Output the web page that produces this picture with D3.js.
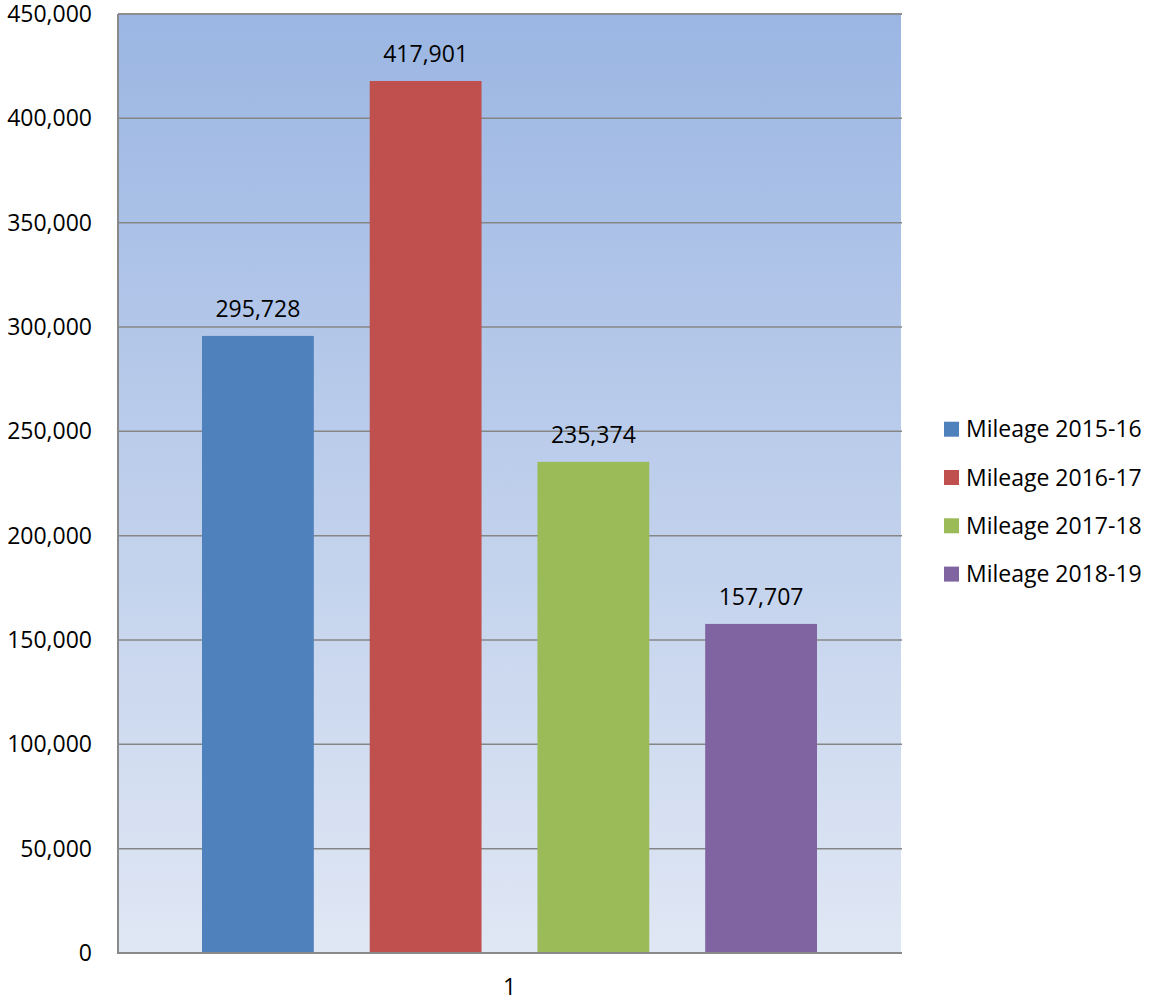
<!DOCTYPE html>
<html><head><meta charset="utf-8">
<script src="https://cdn.jsdelivr.net/npm/d3@7"></script>
<style>body{margin:0;background:#fff;} text{font-family:"Open Sans",sans-serif;fill:#000;}</style>
</head><body>
<svg id="c" width="1150" height="1001"></svg>
<script>
const categories = ["1"];
const seriesNames = ["Mileage 2015-16","Mileage 2016-17","Mileage 2017-18","Mileage 2018-19"];
const seriesValues = [295728, 417901, 235374, 157707];
const seriesColors = ["#4F81BD","#C0504D","#9BBB59","#8064A2"];
const yTicks = [0,50000,100000,150000,200000,250000,300000,350000,400000,450000];

const svg = d3.select("#c");
const L = 118, R = 901, T = 14, B = 953;
const fs = 23;

const defs = svg.append("defs");
const grad = defs.append("linearGradient").attr("id","bg").attr("x1",0).attr("y1",0).attr("x2",0).attr("y2",1);
grad.append("stop").attr("offset","0%").attr("stop-color","#9BB6E3");
grad.append("stop").attr("offset","100%").attr("stop-color","#E0E7F4");

const y = d3.scaleLinear().domain([0,450000]).range([B,T]);
const x0 = d3.scaleBand().domain(categories).range([L,R]).padding(0);
const x1 = d3.scaleBand().domain(seriesNames).range([x0("1")+84, x0("1")+x0.bandwidth()-84]).paddingInner(56/168).paddingOuter(0);

svg.append("rect").attr("x",L).attr("y",T).attr("width",R-L).attr("height",B-T).attr("fill","url(#bg)");

// gridlines
svg.append("g").selectAll("line").data(yTicks.filter(d=>d>0)).join("line")
  .attr("x1",L).attr("x2",R+1).attr("y1",d=>y(d)).attr("y2",d=>y(d))
  .attr("stroke","#868686").attr("stroke-width",1.5);

// y axis labels
const yAxis = d3.axisLeft(y).tickValues(yTicks).tickFormat(d3.format(",")).tickSize(0).tickPadding(26);
const gy = svg.append("g").attr("transform",`translate(${L},0)`).call(yAxis);
gy.select(".domain").remove();
gy.selectAll("text").style("font-family","Open Sans, sans-serif").style("font-size",fs+"px").attr("fill","#000");

// bars
const data = seriesNames.map((n,i)=>({name:n,value:seriesValues[i],color:seriesColors[i]}));
svg.append("g").selectAll("rect").data(data).join("rect")
  .attr("x",d=>x1(d.name)).attr("width",x1.bandwidth())
  .attr("y",d=>y(d.value)).attr("height",d=>B-y(d.value))
  .attr("fill",d=>d.color);

// value labels
svg.append("g").selectAll("text").data(data).join("text")
  .attr("x",d=>x1(d.name)+x1.bandwidth()/2).attr("y",d=>y(d.value)-19)
  .attr("text-anchor","middle").style("font-size",fs+"px")
  .text(d=>d3.format(",")(d.value));

// axes lines
svg.append("line").attr("x1",L).attr("x2",L).attr("y1",T).attr("y2",B+1).attr("stroke","#898989").attr("stroke-width",2);
svg.append("line").attr("x1",L).attr("x2",R+1).attr("y1",B).attr("y2",B).attr("stroke","#898989").attr("stroke-width",2);
svg.append("line").attr("x1",L).attr("x2",R+1).attr("y1",T).attr("y2",T).attr("stroke","#898989").attr("stroke-width",1.5);

// x axis
const xAxis = d3.axisBottom(x0).tickSize(0).tickPadding(26);
const gx = svg.append("g").attr("transform",`translate(0,${B})`).call(xAxis);
gx.select(".domain").remove();
gx.selectAll("text").style("font-family","Open Sans, sans-serif").style("font-size",fs+"px").attr("fill","#000");

// legend
const lg = svg.append("g").selectAll("g").data(data).join("g")
  .attr("transform",(d,i)=>`translate(944,${421.7+i*48.3})`);
lg.append("rect").attr("width",15).attr("height",15).attr("fill",d=>d.color);
lg.append("text").attr("x",22).attr("y",7.5).attr("dy","0.35em").style("font-size",fs+"px").text(d=>d.name);
</script>
</body></html>
